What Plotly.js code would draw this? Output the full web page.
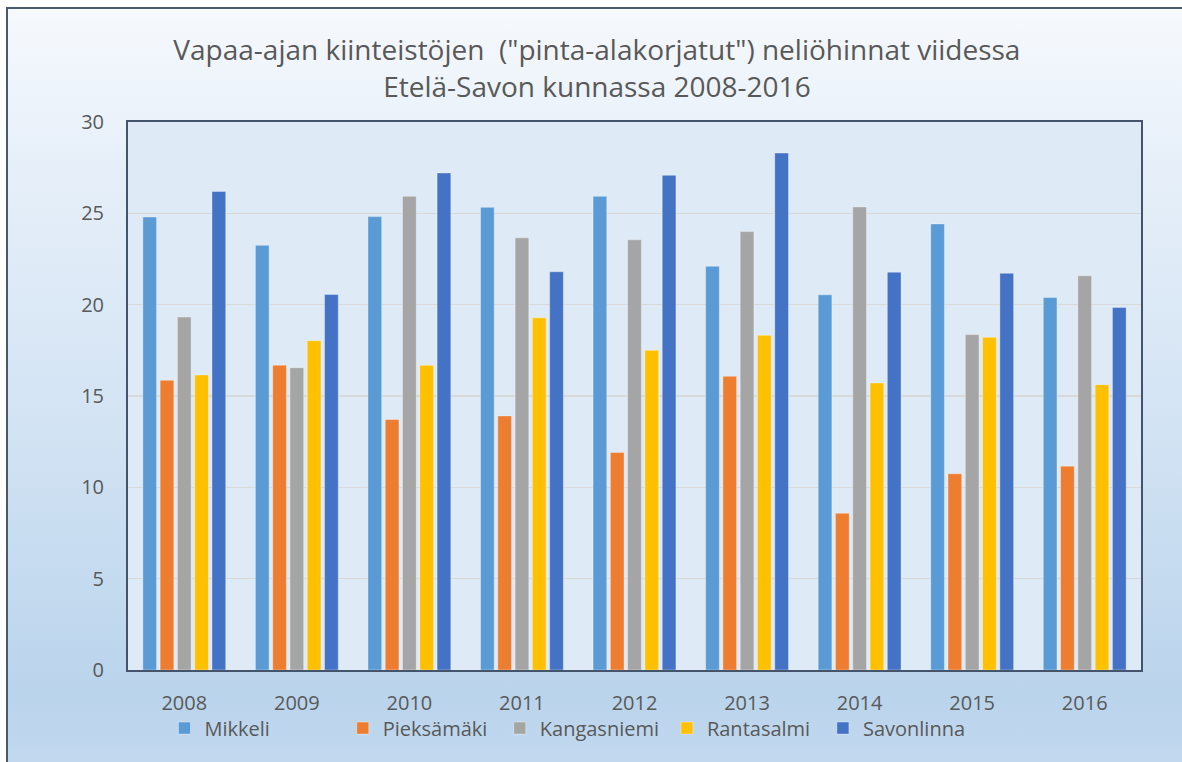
<!DOCTYPE html>
<html>
<head>
<meta charset="utf-8">
<script src="https://cdn.plot.ly/plotly-3.0.1.min.js"></script>
<style>
  html, body { margin: 0; padding: 0; width: 1182px; height: 762px; overflow: hidden; background: #ffffff; }
  #bg { position: absolute; left: 6px; top: 7px; width: 1200px; height: 800px;
        border: 2px solid #4a596e;
        background: linear-gradient(to bottom, #f6f9fd 0%, #e6eff9 20%, #d4e4f4 50%, #bad4ec 86%, #c7dcf1 100%); }
  #chart { position: absolute; left: 0; top: 0; width: 1182px; height: 762px; }
</style>
</head>
<body>
<div id="bg"></div>
<div id="chart"></div>
<script>
const years = ["2008", "2009", "2010", "2011", "2012", "2013", "2014", "2015", "2016"];
const seriesNames = ["Mikkeli", "Pieksämäki", "Kangasniemi", "Rantasalmi", "Savonlinna"];
const mikkeli     = [24.80, 23.25, 24.82, 25.33, 25.93, 22.10, 20.54, 24.42, 20.39];
const pieksamaki  = [15.86, 16.69, 13.71, 13.91, 11.91, 16.08, 8.58, 10.74, 11.16];
const kangasniemi = [19.32, 16.55, 25.93, 23.66, 23.55, 24.00, 25.35, 18.36, 21.58];
const rantasalmi  = [16.15, 18.03, 16.68, 19.28, 17.50, 18.32, 15.71, 18.21, 15.62];
const savonlinna  = [26.20, 20.56, 27.21, 21.80, 27.08, 28.30, 21.78, 21.72, 19.85];
const titleLine1 = 'Vapaa-ajan kiinteistöjen\u00a0 ("pinta-alakorjatut") neliöhinnat viidessa';
const titleLine2 = 'Etelä-Savon kunnassa 2008-2016';

const values = [mikkeli, pieksamaki, kangasniemi, rantasalmi, savonlinna];
const colors = ["#5B9BD5", "#ED7D31", "#A5A5A5", "#FFC000", "#4472C4"];
const legendIds = ["legend", "legend2", "legend3", "legend4", "legend5"];
const legendX = [0.036, 0.212, 0.367, 0.532, 0.686];

const textColor = "#595959";
const fontFam = "'Open Sans', 'Noto Sans', sans-serif";

const traces = seriesNames.map((name, i) => ({
  type: "bar",
  name: name,
  x: years,
  y: values[i],
  legend: legendIds[i],
  marker: { color: colors[i], line: { color: "rgba(255,255,255,0.35)", width: 1 } },
  hoverinfo: "none"
}));

const layout = {
  width: 1182,
  height: 762,
  margin: { l: 128, r: 41, t: 122, b: 92, pad: 0 },
  paper_bgcolor: "rgba(0,0,0,0)",
  plot_bgcolor: "#deeaf6",
  barmode: "group",
  bargap: 0.232,
  bargroupgap: 0.206,
  font: { family: fontFam, color: textColor, size: 20 },
  title: {
    text: titleLine1 + "<br>" + titleLine2,
    font: { family: fontFam, size: 28, color: textColor },
    xref: "container", x: 0.505, xanchor: "center",
    yref: "container", y: 0.921, yanchor: "top"
  },
  xaxis: {
    type: "category",
    showline: true, mirror: true, linecolor: "#44546a", linewidth: 2,
    showgrid: false,
    ticks: "outside", ticklen: 14, tickcolor: "rgba(0,0,0,0)",
    tickfont: { family: fontFam, size: 20, color: textColor }
  },
  yaxis: {
    range: [0, 30], dtick: 5, tick0: 0,
    showline: true, mirror: true, linecolor: "#44546a", linewidth: 2,
    showgrid: true, gridcolor: "#d9d9d9", gridwidth: 1.5,
    zeroline: false,
    ticks: "outside", ticklen: 18, tickcolor: "rgba(0,0,0,0)",
    tickfont: { family: fontFam, size: 20, color: textColor }
  },
  showlegend: true
};

legendIds.forEach((id, i) => {
  layout[id] = {
    orientation: "h",
    x: legendX[i], xanchor: "left",
    y: -0.106, yanchor: "middle",
    bgcolor: "rgba(0,0,0,0)",
    borderwidth: 0,
    font: { family: fontFam, size: 20, color: textColor }
  };
});

Plotly.newPlot("chart", traces, layout, { displayModeBar: false, staticPlot: true });
</script>
</body>
</html>
